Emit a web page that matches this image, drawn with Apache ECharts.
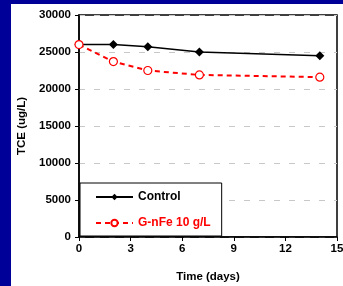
<!DOCTYPE html>
<html>
<head>
<meta charset="utf-8">
<script src="https://cdn.jsdelivr.net/npm/echarts@6/dist/echarts.min.js"></script>
<style>
  html, body { margin: 0; padding: 0; background: #000099; width: 343px; height: 286px; overflow: hidden; }
  #chart { position: absolute; left: 11px; top: 4px; width: 332px; height: 282px; background: #fff; }
</style>
</head>
<body>
<div id="chart"></div>
<script>
// data
const days = [0, 2, 4, 7, 14];
const control = [26000, 26000, 25700, 25000, 24500];
const gnfe = [26000, 23700, 22500, 21900, 21600];
const xTicks = [0, 3, 6, 9, 12, 15];
const yTicks = [0, 5000, 10000, 15000, 20000, 25000, 30000];

const font = 'Liberation Sans, Arial, sans-serif';

const chart = echarts.init(document.getElementById('chart'));
chart.setOption({
  animation: false,
  grid: {
    left: 68, top: 11, right: 6, bottom: 49,
    outerBoundsMode: 'none',
    containLabel: false,
    show: true, borderColor: '#000', borderWidth: 1.5
  },
  legend: {
    left: 69, top: 179,
    orient: 'vertical',
    backgroundColor: '#fff',
    borderColor: '#000',
    borderWidth: 1,
    borderRadius: 0,
    padding: [8, 11, 7, 15],
    itemWidth: 37,
    itemHeight: 8,
    itemGap: 14,
    textStyle: { fontFamily: font, fontWeight: 'bold', fontSize: 12 },
    data: [
      { name: 'Control', textStyle: { color: '#000' } },
      { name: 'G-nFe 10 g/L', textStyle: { color: '#ff0000' } }
    ]
  },
  xAxis: {
    type: 'value',
    min: xTicks[0],
    max: xTicks[xTicks.length - 1],
    interval: 3,
    name: 'Time (days)',
    nameLocation: 'middle',
    nameGap: 34,
    nameTextStyle: { fontFamily: font, fontWeight: 'bold', fontSize: 11.5, color: '#000' },
    axisLine: { lineStyle: { color: '#000', width: 1.5 } },
    axisTick: { show: true, length: 4, lineStyle: { color: '#000' } },
    axisLabel: { margin: 6, fontFamily: font, fontWeight: 'bold', fontSize: 11.5, color: '#000' },
    splitLine: { show: false }
  },
  yAxis: {
    type: 'value',
    min: yTicks[0],
    max: yTicks[yTicks.length - 1],
    interval: 5000,
    name: 'TCE (ug/L)',
    nameLocation: 'middle',
    nameRotate: 90,
    nameGap: 49,
    nameTextStyle: { fontFamily: font, fontWeight: 'bold', fontSize: 11.5, color: '#000' },
    axisLine: { show: true, lineStyle: { color: '#000', width: 1.5 } },
    axisTick: { show: true, length: 4, lineStyle: { color: '#000' } },
    axisLabel: { margin: 8, fontFamily: font, fontWeight: 'bold', fontSize: 11.5, color: '#000', formatter: v => String(v) },
    splitLine: { show: true, lineStyle: { color: '#c8c8c8', width: 1.2, type: [6, 9] } }
  },
  series: [
    {
      name: 'Control',
      type: 'line',
      data: days.map((d, i) => [d, control[i]]),
      symbol: 'diamond',
      symbolSize: 9,
      itemStyle: { color: '#000' },
      lineStyle: { color: '#000', width: 1.5 },
      z: 3
    },
    {
      name: 'G-nFe 10 g/L',
      type: 'line',
      data: days.map((d, i) => [d, gnfe[i]]),
      symbol: 'circle',
      symbolSize: 8,
      itemStyle: { color: '#fff', borderColor: '#ff0000', borderWidth: 1.2 },
      lineStyle: { color: '#ff0000', width: 2, type: [5, 4] },
      z: 4
    }
  ]
});
</script>
</body>
</html>
